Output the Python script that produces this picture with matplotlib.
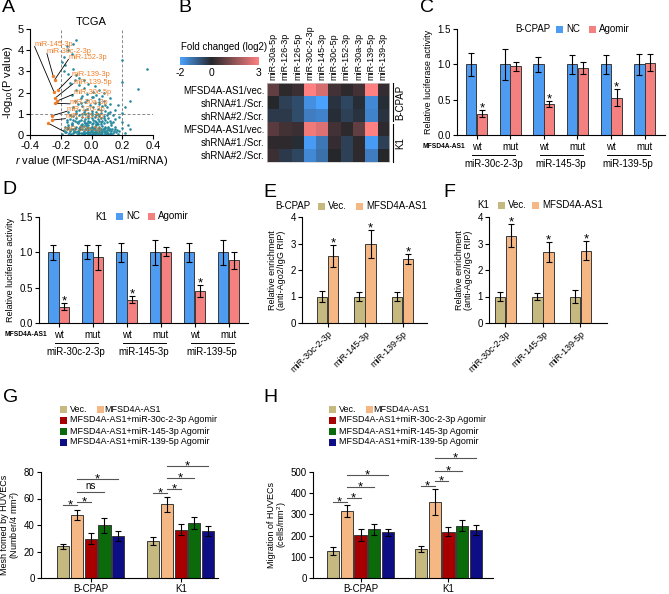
import numpy as np
import matplotlib
matplotlib.use("Agg")
import matplotlib.pyplot as plt
from matplotlib.patches import Rectangle
from matplotlib.colors import LinearSegmentedColormap, Normalize
from matplotlib.cm import ScalarMappable
from matplotlib.transforms import blended_transform_factory

plt.rcParams["font.family"] = ["Liberation Sans", "DejaVu Sans"]
plt.rcParams["mathtext.fontset"] = "custom"
plt.rcParams["mathtext.rm"] = "Liberation Sans"
plt.rcParams["mathtext.it"] = "Liberation Sans:italic"
plt.rcParams["axes.unicode_minus"] = False
plt.rcParams["axes.linewidth"] = 0.8

# ── data ────────────────────────────────────────────────────────────────────
# A: volcano (r value, -log10 P)
cloud_r = [-0.19, -0.17, -0.16, -0.15, -0.14, -0.13, -0.12, -0.11, -0.10, -0.10, -0.09, -0.08, -0.08,
           -0.07, -0.07, -0.06, -0.06, -0.05, -0.05, -0.04, -0.04, -0.03, -0.03, -0.02, -0.02, -0.02,
           -0.01, -0.01, 0.00, 0.00, 0.00, 0.01, 0.01, 0.02, 0.02, 0.02, 0.03, 0.03, 0.03, 0.04, 0.04,
           0.05, 0.05, 0.05, 0.06, 0.06, 0.07, 0.07, 0.07, 0.08, 0.08, 0.09, 0.09, 0.10, 0.10, 0.11,
           0.11, 0.12, 0.12, 0.13, 0.13, 0.14, 0.15, 0.16, 0.17, 0.18, -0.18, -0.15, -0.12, -0.09,
           -0.16, -0.14, -0.13, -0.12, -0.11, -0.10, -0.09, -0.08, -0.07, -0.06, -0.06, -0.05, -0.04,
           -0.04, -0.03, -0.02, -0.02, -0.01, 0.00, 0.00, 0.01, 0.01, 0.02, 0.03, 0.03, 0.04, 0.04,
           0.05, 0.06, 0.06, 0.07, 0.08, 0.08, 0.09, 0.10, 0.11, 0.12, 0.13, 0.15, 0.20, 0.25, 0.22,
           -0.15, -0.12, -0.10, -0.09, -0.08, -0.06, -0.05, -0.04, -0.03, -0.02, -0.01, 0.00, 0.01,
           0.02, 0.03, 0.04, 0.05, 0.06, 0.07, 0.08, 0.09, 0.10, 0.11, 0.12, 0.05, -0.07,
           -0.13, -0.10, -0.08, -0.06, -0.05, -0.03, -0.02, 0.00, 0.01, 0.03, 0.05, 0.07, -0.14,
           -0.11, 0.02, 0.08, 0.12,
           -0.10, -0.12, -0.16, -0.15, -0.13, -0.18, -0.19, -0.17, -0.12, -0.15, -0.10, -0.08, -0.05,
           -0.18, 0.20, 0.36, 0.30, 0.20, 0.25, 0.22, 0.20, 0.18, 0.20, 0.24, 0.17, 0.15, 0.14,
           -0.01, 0.01, -0.03, 0.04, -0.05, 0.06, -0.08, 0.09, 0.02, -0.02, 0.00, 0.03, -0.04, 0.05]
cloud_p = [0.05, 0.12, 0.30, 0.02, 0.20, 0.45, 0.08, 0.28, 0.15, 0.40, 0.05, 0.22, 0.35,
           0.10, 0.48, 0.02, 0.30, 0.18, 0.42, 0.08, 0.26, 0.14, 0.38, 0.04, 0.22, 0.47,
           0.12, 0.32, 0.06, 0.20, 0.40, 0.10, 0.28, 0.02, 0.16, 0.36, 0.08, 0.25, 0.45, 0.14, 0.33,
           0.04, 0.20, 0.40, 0.10, 0.30, 0.06, 0.18, 0.44, 0.12, 0.26, 0.04, 0.35, 0.15, 0.22, 0.05,
           0.40, 0.10, 0.28, 0.02, 0.18, 0.08, 0.30, 0.12, 0.05, 0.20, 0.25, 0.40, 0.30, 0.18,
           0.60, 0.75, 0.55, 0.90, 0.65, 0.80, 0.58, 0.95, 0.70, 0.52, 0.85, 0.65, 0.75,
           0.98, 0.56, 0.68, 0.88, 0.60, 0.78, 0.95, 0.55, 0.70, 0.85, 0.62, 0.92, 0.52, 0.74,
           0.88, 0.60, 0.80, 0.68, 0.55, 0.90, 0.72, 0.60, 0.82, 0.66, 0.56, 0.75, 0.60, 0.30, 0.10,
           1.10, 1.30, 1.05, 1.45, 1.20, 1.35, 1.10, 1.55, 1.25, 1.05, 1.40, 1.15, 1.30,
           1.50, 1.10, 1.25, 1.45, 1.05, 1.35, 1.60, 1.15, 1.30, 1.05, 1.45, 1.70, 1.75,
           1.90, 2.10, 2.35, 1.85, 2.20, 1.95, 2.40, 1.80, 2.05, 1.90, 2.10, 1.85, 2.45,
           2.60, 2.30, 2.00, 1.75,
           4.50, 4.30, 4.20, 4.00, 3.80, 3.70, 3.45, 3.30, 3.10, 2.90, 2.85, 2.70, 2.60,
           3.00, 3.55, 3.10, 2.15, 2.50, 1.60, 1.30, 1.05, 0.85, 0.35, 0.45, 1.40, 1.20, 0.95,
           0.03, 0.07, 0.10, 0.03, 0.06, 0.12, 0.09, 0.02, 0.25, 0.33, 0.15, 0.50, 0.58, 0.65]
cloud2_r = [-0.165, -0.155, -0.145, -0.135, -0.125, -0.115, -0.105, -0.095, -0.085, -0.075, -0.065,
            -0.055, -0.045, -0.035, -0.025, -0.015, -0.005, 0.005, 0.015, 0.025, 0.035, 0.045,
            0.055, 0.065, 0.075, 0.085, 0.095, 0.105, 0.115, 0.125, 0.135, 0.145,
            -0.16, -0.14, -0.12, -0.10, -0.08, -0.06, -0.04, -0.02, 0.00, 0.02, 0.04, 0.06, 0.08,
            0.10, 0.12, 0.14, -0.11, -0.07, -0.03, 0.01, 0.05, 0.09,
            -0.135, -0.095, -0.055, -0.015, 0.025, 0.065, 0.105, -0.075, -0.035, 0.005, 0.045,
            -0.115, 0.085, -0.155, 0.125, 0.155, -0.175, 0.165]
cloud2_p = [0.15, 0.35, 0.10, 0.28, 0.50, 0.18, 0.32, 0.60, 0.12, 0.27, 0.42,
            0.08, 0.55, 0.30, 0.16, 0.60, 0.25, 0.50, 0.34, 0.12, 0.58, 0.22,
            0.30, 0.50, 0.28, 0.40, 0.10, 0.35, 0.25, 0.45, 0.30, 0.18,
            0.70, 0.95, 0.72, 1.15, 0.68, 1.00, 1.20, 0.78, 1.05, 0.65, 0.98, 1.20, 0.78,
            0.92, 1.10, 0.60, 1.60, 1.50, 1.65, 1.80, 1.55, 1.40,
            0.05, 0.02, 0.10, 0.03, 0.05, 0.02, 0.06, 0.38, 0.45, 0.40, 0.15,
            0.12, 0.20, 0.45, 0.05, 0.40, 0.40, 0.25]

hit_names = ["miR-145-3p", "miR-30c-2-3p", "miR-152-3p", "miR-139-3p", "miR-139-5p",
             "miR-30c-5p", "miR-30a-3p", "miR-126-3p", "miR-126-5p", "miR-30a-5p"]
hit_r = [-0.245, -0.25, -0.24, -0.22, -0.235, -0.225, -0.235, -0.26, -0.26, -0.28]
hit_p = [2.05, 2.80, 2.60, 2.10, 1.75, 1.60, 1.50, 0.90, 0.70, 0.55]
hit_lab_r = [-0.37, -0.29, -0.15, -0.13, -0.12, -0.12, -0.14, -0.16, -0.17, -0.18]
hit_lab_p = [4.25, 3.92, 3.65, 2.85, 2.50, 2.00, 1.55, 1.20, 0.85, 0.25]

# B: heatmap (log2 fold change)
hm_cols = ["miR-30a-5p", "miR-126-3p", "miR-126-5p", "miR-30c-2-3p", "miR-145-3p",
           "miR-30c-5p", "miR-152-3p", "miR-30a-3p", "miR-139-5p", "miR-139-3p"]
hm_rows = ["MFSD4A-AS1/vec.", "shRNA#1./Scr.", "shRNA#2./Scr.",
           "MFSD4A-AS1/vec.", "shRNA#1./Scr.", "shRNA#2./Scr."]
hm_bcpap_vec = [0.8, 0.1, 0.3, 3.0, 2.4, 0.4, 0.1, 0.4, 3.0, 0.2]
hm_bcpap_sh1 = [0.0, -0.4, -0.6, -1.7, -2.0, -0.2, -0.5, -0.1, -1.6, -0.1]
hm_bcpap_sh2 = [-0.3, -0.3, -0.6, -1.4, -1.5, -0.1, -0.4, -0.2, -1.5, -0.2]
hm_k1_vec = [0.7, 0.4, 0.3, 2.8, 2.5, 0.4, 0.1, 0.8, 3.0, 0.1]
hm_k1_sh1 = [0.1, 0.1, -0.1, -1.9, -1.3, 0.2, -0.4, 0.1, -1.9, -0.4]
hm_k1_sh2 = [0.3, -0.3, -0.5, -1.6, -1.2, 0.0, -0.4, 0.1, -1.4, 0.0]

# C / D: luciferase
luc_groups = ["miR-30c-2-3p", "miR-145-3p", "miR-139-5p"]
luc_types = ["wt", "mut", "wt", "mut", "wt", "mut"]
c_nc = [1.00, 1.00, 1.00, 1.00, 1.00, 1.00]
c_nc_err = [0.16, 0.22, 0.11, 0.13, 0.13, 0.15]
c_ag = [0.30, 0.97, 0.44, 0.95, 0.53, 1.02]
c_ag_err = [0.05, 0.07, 0.045, 0.085, 0.12, 0.12]
d_nc = [1.00, 1.00, 1.00, 1.00, 1.00, 1.00]
d_nc_err = [0.105, 0.10, 0.13, 0.18, 0.13, 0.18]
d_ag = [0.23, 0.93, 0.33, 1.01, 0.45, 0.89]
d_ag_err = [0.05, 0.18, 0.047, 0.06, 0.087, 0.12]

# E / F: RIP
rip_mirs = ["miR-30c-2-3p", "miR-145-3p", "miR-139-5p"]
e_vec = [1.00, 1.00, 1.00]
e_vec_err = [0.19, 0.16, 0.17]
e_mf = [2.54, 2.97, 2.43]
e_mf_err = [0.41, 0.53, 0.19]
f_vec = [1.00, 1.00, 1.00]
f_vec_err = [0.17, 0.12, 0.24]
f_mf = [3.30, 2.68, 2.73]
f_mf_err = [0.45, 0.36, 0.36]

# G / H: tube formation, migration
cells = ["B-CPAP", "K1"]
groups5 = ["Vec.", "MFSD4A-AS1", "MFSD4A-AS1+miR-30c-2-3p Agomir",
           "MFSD4A-AS1+miR-145-3p Agomir", "MFSD4A-AS1+miR-139-5p Agomir"]
g_bcpap = [23.9, 47.3, 29.7, 39.7, 31.7]
g_bcpap_err = [2.0, 3.8, 4.3, 5.7, 3.4]
g_k1 = [27.7, 55.6, 36.5, 41.5, 35.5]
g_k1_err = [3.1, 5.9, 4.2, 4.7, 3.6]
h_bcpap = [126, 317, 203, 230, 216]
h_bcpap_err = [18, 27, 27, 27, 17]
h_k1 = [137, 357, 218, 247, 226]
h_k1_err = [13, 62, 22, 27, 25]
# significance brackets: (cell, bar i, bar j, y, label)
g_sig = [(0, 0, 1, 55, "*"), (0, 1, 2, 57.6, "*"), (0, 1, 3, 65, "ns"), (0, 1, 4, 74.6, "*"),
         (1, 0, 1, 64, "*"), (1, 1, 2, 67, "*"), (1, 1, 3, 75.5, "*"), (1, 1, 4, 84.5, "*")]
h_sig = [(0, 0, 1, 357, "*"), (0, 1, 2, 376, "*"), (0, 1, 3, 428, "*"), (0, 1, 4, 484, "*"),
         (1, 0, 1, 435, "*"), (1, 1, 2, 457, "*"), (1, 1, 3, 506, "*"), (1, 1, 4, 565, "*")]

# ── style ───────────────────────────────────────────────────────────────────
TEAL = "#27899c"
ORANGE = "#f07d28"
NC_BLUE = "#4d9cf2"
AG_RED = "#f48080"
VEC = "#c6b97f"
MF = "#f5b884"
C5 = [VEC, MF, "#a80000", "#0b6b0b", "#0d0d86"]
EDGE = "#3a3a3a"
EKW = dict(elinewidth=0.8, capthick=0.8, ecolor="black")

W, H = 669, 594
fig = plt.figure(figsize=(W / 100, H / 100), dpi=100)


def add_ax(l, t, r, b):
    return fig.add_axes([l / W, 1 - b / H, (r - l) / W, (b - t) / H])


def ftext(x, y, s, **kw):
    fig.text(x / W, 1 - y / H, s, **kw)


def fsquare(x, y, c, size=7):
    fig.add_artist(Rectangle((x / W, 1 - (y + size / 2) / H), size / W, size / H,
                             facecolor=c, edgecolor="none", transform=fig.transFigure))


def style(ax, fs=7):
    ax.spines["top"].set_visible(False)
    ax.spines["right"].set_visible(False)
    ax.tick_params(labelsize=fs, length=3, width=0.8, pad=1.5)


def star(ax, x, y, s="*", dy=-1, fs=9.5):
    ax.annotate(s, (x, y), xytext=(0, dy), textcoords="offset points",
                ha="center", va="baseline", fontsize=fs, annotation_clip=False)


for lab, x, y in [("A", 2, 8), ("B", 178, 8), ("C", 420, 8), ("D", 2, 190), ("E", 263, 192),
                  ("F", 443, 192), ("G", 3, 397), ("H", 263, 397)]:
    ftext(x, y, lab, fontsize=14, va="center", ha="left")

# ── A: volcano ──────────────────────────────────────────────────────────────
ax = add_ax(30, 29, 153, 135)
style(ax, 8)
ax.scatter(cloud_r, cloud_p, s=3.5, color=TEAL, linewidths=0, zorder=2)
ax.scatter(cloud2_r, cloud2_p, s=3.5, color=TEAL, linewidths=0, zorder=2)
ax.scatter(hit_r, hit_p, s=6, color=ORANGE, linewidths=0, zorder=3)
for n, x0, y0, x1, y1 in zip(hit_names, hit_r, hit_p, hit_lab_r, hit_lab_p):
    ax.plot([x0, x1], [y0, y1 - 0.08], color="black", lw=0.6, zorder=2)
    ax.text(x1, y1, n, color=ORANGE, fontsize=5.3, ha="left", va="center", zorder=4)
for xv in [-0.2, 0.2]:
    ax.axvline(xv, color="#888888", lw=0.7, ls=(0, (3, 2)), zorder=1)
ax.axhline(1, color="#888888", lw=0.7, ls=(0, (3, 2)), zorder=1)
ax.set_xlim(-0.4, 0.4)
ax.set_ylim(0, 5)
ax.set_xticks([-0.4, -0.2, 0.0, 0.2, 0.4])
ax.set_xticklabels(["-0.4", "-0.2", "0.0", "0.2", "0.4"])
ax.set_yticks(range(6))
ax.set_title("TCGA", fontsize=8, pad=3)
ax.set_xlabel("$r$ value (MFSD4A-AS1/miRNA)", fontsize=8, labelpad=2)
ax.set_ylabel("-log$_{10}$(P value)", fontsize=8, labelpad=2)

# ── B: heatmap ──────────────────────────────────────────────────────────────
cmap = LinearSegmentedColormap.from_list(
    "fc", [(0.0, "#4aa2ff"), (0.4, "#26272b"), (1.0, "#ff8080")])
ax = add_ax(267, 83, 389, 162)
hm = np.array([hm_bcpap_vec, hm_bcpap_sh1, hm_bcpap_sh2, hm_k1_vec, hm_k1_sh1, hm_k1_sh2])
ax.imshow(hm, cmap=cmap, vmin=-2, vmax=3, aspect="auto")
ax.xaxis.tick_top()
ax.set_xticks(range(len(hm_cols)))
ax.set_xticklabels(hm_cols, rotation=90, fontsize=6.5)
ax.set_yticks(range(len(hm_rows)))
ax.set_yticklabels(hm_rows, fontsize=7)
ax.tick_params(length=0, pad=2)
for s in ax.spines.values():
    s.set_color("#cccccc")
    s.set_linewidth(0.5)
for y0, y1, lab in [(1.0, 0.52, "B-CPAP"), (0.48, 0.0, "K1")]:
    ax.plot([1.035, 1.035], [y0, y1], color="black", lw=0.8, transform=ax.transAxes, clip_on=False)
    ax.text(1.09, (y0 + y1) / 2, lab, rotation=90, fontsize=7, ha="center", va="center",
            transform=ax.transAxes)
cax = add_ax(180, 57, 259, 65)
cb = fig.colorbar(ScalarMappable(norm=Normalize(-2, 3), cmap=cmap), cax=cax, orientation="horizontal")
cb.outline.set_visible(False)
cb.set_ticks([-2, 0, 3])
cb.ax.tick_params(length=0, labelsize=7.5, pad=2)
ftext(181, 47, "Fold changed (log2)", fontsize=7, va="center")


# ── C / D: luciferase ───────────────────────────────────────────────────────
def luc_panel(ax, nc, nc_err, ag, ag_err, cell, xr, cell_x):
    style(ax, 7)
    x = np.arange(6)
    ax.bar(x - 0.16, nc, 0.31, yerr=nc_err, color=NC_BLUE, edgecolor=EDGE, lw=0.7,
           capsize=2.2, error_kw=EKW)
    ax.bar(x + 0.16, ag, 0.31, yerr=ag_err, color=AG_RED, edgecolor=EDGE, lw=0.7,
           capsize=2.2, error_kw=EKW)
    for i in [0, 2, 4]:
        star(ax, i + 0.16, ag[i] + ag_err[i])
    ax.set_xlim(-0.58, xr)
    ax.set_ylim(0, 1.5)
    ax.set_yticks([0, 0.5, 1.0, 1.5])
    ax.set_yticklabels(["0.0", "0.5", "1.0", "1.5"])
    ax.set_xticks(x)
    ax.set_xticklabels([])
    ax.set_ylabel("Relative luciferase activity", fontsize=6.5, labelpad=3)
    tr = blended_transform_factory(ax.transData, ax.transAxes)
    ax.text(-0.35, -0.11, "MFSD4A-AS1", fontsize=4.8, fontweight="bold", ha="right",
            va="center", transform=tr)
    for i, t in enumerate(luc_types):
        ax.text(i, -0.11, t, fontsize=7, ha="center", va="center", transform=tr)
    for g, name in enumerate(luc_groups):
        ax.plot([2 * g - 0.12, 2 * g + 1.15], [-0.19, -0.19], color="black", lw=0.7,
                transform=tr, clip_on=False)
        ax.text(2 * g + 0.5, -0.27, name, fontsize=7, ha="center", va="center", transform=tr)
    ax.text(cell_x, 1.0, cell, fontsize=7, ha="left", va="center", transform=tr)


ax = add_ax(457, 29, 665, 135)
luc_panel(ax, c_nc, c_nc_err, c_ag, c_ag_err, "B-CPAP", 5.6, 1.16)
fsquare(556, 29, NC_BLUE)
ftext(566, 29, "NC", fontsize=7, va="center")
fsquare(589, 29, AG_RED)
ftext(599, 29, "Agomir", fontsize=7, va="center")

ax = add_ax(39, 217, 248, 323)
luc_panel(ax, d_nc, d_nc_err, d_ag, d_ag_err, "K1", 5.57, 1.08)
fsquare(116, 216, NC_BLUE)
ftext(126, 216, "NC", fontsize=7, va="center")
fsquare(148, 216, AG_RED)
ftext(158, 216, "Agomir", fontsize=7, va="center")


# ── E / F: RIP ──────────────────────────────────────────────────────────────
def rip_panel(ax, vec, vec_err, mf, mf_err, xl, xr):
    style(ax, 7)
    x = np.arange(3)
    ax.bar(x - 0.15, vec, 0.28, yerr=vec_err, color=VEC, edgecolor=EDGE, lw=0.7,
           capsize=2.2, error_kw=EKW)
    ax.bar(x + 0.15, mf, 0.28, yerr=mf_err, color=MF, edgecolor=EDGE, lw=0.7,
           capsize=2.2, error_kw=EKW)
    for i in range(3):
        star(ax, i + 0.15, mf[i] + mf_err[i])
    ax.set_xlim(xl, xr)
    ax.set_ylim(0, 4)
    ax.set_yticks([0, 1, 2, 3, 4])
    ax.set_xticks(x)
    ax.set_xticklabels(rip_mirs, rotation=45, ha="right", rotation_mode="anchor", fontsize=6.5)
    ax.set_ylabel("Relative enrichment\n(anti-Ago2/IgG RIP)", fontsize=6.5, labelpad=3,
                  linespacing=1.0)


ax = add_ax(302, 217, 427, 323)
rip_panel(ax, e_vec, e_vec_err, e_mf, e_mf_err, -0.68, 2.65)
ftext(275, 206, "B-CPAP", fontsize=7, va="center")
fsquare(318, 206, VEC)
ftext(328, 206, "Vec.", fontsize=7, va="center")
fsquare(356, 206, MF)
ftext(366, 206, "MFSD4A-AS1", fontsize=7, va="center")

ax = add_ax(489, 217, 607, 323)
rip_panel(ax, f_vec, f_vec_err, f_mf, f_mf_err, -0.44, 2.71)
ftext(477, 205, "K1", fontsize=7, va="center")
fsquare(498, 205, VEC)
ftext(508, 205, "Vec.", fontsize=7, va="center")
fsquare(532, 205, MF)
ftext(542, 205, "MFSD4A-AS1", fontsize=7, va="center")


# ── G / H: five-group bars ──────────────────────────────────────────────────
def five_panel(ax, v0, e0, v1, e1, sig, step, width, xl, xr, ymax, yticks, ylabel):
    style(ax, 7)
    offs = (np.arange(5) - 2) * step
    for g, (vals, errs) in enumerate([(v0, e0), (v1, e1)]):
        ax.bar(g + offs, vals, width, yerr=errs, color=C5, edgecolor=EDGE, lw=0.7,
               capsize=2.2, error_kw=EKW)
    for cell, i, j, y, lab in sig:
        x0, x1 = cell + offs[i], cell + offs[j]
        ax.plot([x0, x1], [y, y], color="#555555", lw=0.8, clip_on=False)
        if lab == "*":
            star(ax, (x0 + x1) / 2, y, dy=-2.5)
        else:
            ax.annotate(lab, ((x0 + x1) / 2, y), xytext=(0, 2), textcoords="offset points",
                        ha="center", va="baseline", fontsize=7, annotation_clip=False)
    ax.set_xlim(xl, xr)
    ax.set_ylim(0, ymax)
    ax.set_yticks(yticks)
    ax.set_xticks([0, 1])
    ax.set_xticklabels(cells, fontsize=7)
    ax.set_ylabel(ylabel, fontsize=6.5, labelpad=1, linespacing=1.0)


def five_legend(x, y):
    fsquare(x, y, C5[0])
    ftext(x + 10, y, groups5[0], fontsize=6.5, va="center")
    fsquare(x + 37, y, C5[1])
    ftext(x + 44, y, groups5[1], fontsize=6.5, va="center")
    for k in range(2, 5):
        yy = y + 11 * (k - 1)
        fsquare(x, yy, C5[k])
        ftext(x + 10, yy, groups5[k], fontsize=6.5, va="center")


ax = add_ax(41, 472, 218, 578)
five_panel(ax, g_bcpap, g_bcpap_err, g_k1, g_k1_err, g_sig, 0.152, 0.135, -0.553, 1.414,
           80, [0, 20, 40, 60, 80], "Mesh fomed by HUVECs\n(Number/4 mm$^2$)")
five_legend(60, 409)

ax = add_ax(313, 472, 493, 578)
five_panel(ax, h_bcpap, h_bcpap_err, h_k1, h_k1_err, h_sig, 0.157, 0.138, -0.54, 1.506,
           500, [0, 100, 200, 300, 400, 500], "Migration of HUVECs\n(cells/mm$^2$)")
five_legend(329, 409)

fig.savefig("out.png", dpi=100)
